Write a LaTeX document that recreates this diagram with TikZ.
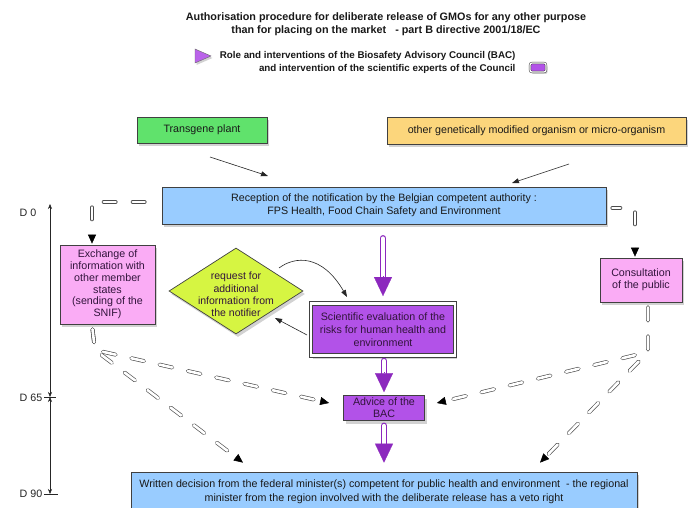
\documentclass[tikz,border=0pt]{standalone}
\usepackage{fontspec}
\setmainfont{Liberation Sans}
\usetikzlibrary{shapes.geometric,arrows.meta,calc,shadows}
\definecolor{bgreen}{RGB}{96,226,108}
\definecolor{borange}{RGB}{252,214,124}
\definecolor{bblue}{RGB}{153,204,255}
\definecolor{bpink}{RGB}{250,172,245}
\definecolor{byellow}{RGB}{214,245,66}
\definecolor{bpurple}{RGB}{178,82,232}
\definecolor{bdpurple}{RGB}{140,40,190}
\definecolor{btext}{RGB}{50,20,60}
\begin{document}
\begin{tikzpicture}[x=1pt,y=-1pt,
  box/.style={draw=black!75, line width=0.7pt, inner sep=0pt, align=center,
    font=\fontsize{10.7}{12}\selectfont, text=black!90,
    drop shadow={shadow xshift=2pt,shadow yshift=-3pt,opacity=0.35}},
  pinkbox/.style={box, fill=bpink, text=btext},
  thinarrow/.style={-{Triangle[length=7pt,width=5pt]}, line width=0.6pt, black!85},
  hollowdash/.style={draw=black!70, line width=0.65pt, double=white, double distance=2.6pt,
    dash pattern=on 13pt off 16pt, line cap=round},
  dashtip/.style={-{Triangle[length=9pt,width=8pt]}, line width=0.5pt, black},
  bacshaft/.style={draw=bdpurple, line width=1.3pt, double=white, double distance=4pt, line cap=round},
  bachead/.style={-{Triangle[length=19pt,width=18pt]}, line width=0.2pt, bdpurple},
  dlabel/.style={font=\fontsize{10.7}{12}\selectfont, text=black!85}
]
\useasboundingbox (0,0) rectangle (691,508);
\fill[white] (0,0) rectangle (691,508);

% title and legend
\node[font=\bfseries\fontsize{10.8}{13}\selectfont, align=center, text=black!90] (title) at (386,24.5)
  {Authorisation procedure for deliberate release of GMOs for any other purpose\\
   than for placing on the market \ \ - part B directive 2001/18/EC};
\draw[draw=black!60, line width=0.4pt, fill=bpurple!90!white,
  drop shadow={shadow xshift=1.5pt,shadow yshift=-2pt,opacity=0.35}]
  (195,49) -- (211,56) -- (195,63) -- cycle;
\node[font=\bfseries\fontsize{9.8}{12.5}\selectfont, align=right, anchor=east, text=black!90] (legtext) at (519,62.5)
  {Role and interventions of the Biosafety Advisory Council (BAC)\\
   and intervention of the scientific experts of the Council};
\node[draw=black!75, line width=0.5pt, double=white, double distance=1.2pt, fill=bpurple,
  rounded corners=2pt, minimum width=16pt, minimum height=9pt, inner sep=0pt,
  drop shadow={shadow xshift=1.5pt,shadow yshift=-2pt,opacity=0.35}] (legbox) at (538,67.5) {};

% source boxes
\node[box, fill=bgreen, minimum width=130pt, minimum height=26pt] (plant) at (202,130) {Transgene plant};
\node[box, fill=borange, minimum width=299pt, minimum height=27pt] (other) at (536.5,130.5)
  {other genetically modified organism or micro-organism};
\node[box, fill=bblue, minimum width=444pt, minimum height=37pt, font=\fontsize{10.7}{13}\selectfont] (rec) at (384,205.5)
  {Reception of the notification by the Belgian competent authority :\\
   FPS Health, Food Chain Safety and Environment};

\coordinate (pa) at (210,157); \coordinate (pb) at (268,176);
\coordinate (oa) at (569,164); \coordinate (ob) at (512,183);
\draw[thinarrow] (pa) -- (pb);
\draw[thinarrow] (oa) -- (ob);

% side boxes
\node[pinkbox, minimum width=95pt, minimum height=79pt, font=\fontsize{10.7}{11.8}\selectfont] (exch) at (107.5,284.5)
  {Exchange of\\information with\\other member\\states\\(sending of the\\SNIF)};
\node[pinkbox, minimum width=82pt, minimum height=44pt, font=\fontsize{10.7}{11.8}\selectfont] (cons) at (641,280)
  {Consultation\\of the public};

% diamond
\node[draw=black!75, line width=0.7pt, fill=byellow, diamond, inner sep=0pt,
  minimum width=134pt, minimum height=86pt,
  drop shadow={shadow xshift=2pt,shadow yshift=-3pt,opacity=0.35}] (req) at (236,291) {};
\node[align=center, font=\fontsize{10.5}{12.3}\selectfont, text=btext] (reqtext) at (236,294.5)
  {request for\\additional\\information from\\the notifier};

% scientific evaluation
\node[box, fill=bpurple, text=btext, line width=0.9pt, double=white, double distance=2.6pt,
  minimum width=144pt, minimum height=52pt, font=\fontsize{10.7}{13}\selectfont] (sci) at (383,329.5)
  {Scientific evaluation of the\\risks for human health and\\environment};
\node[box, fill=bpurple, text=btext, minimum width=81pt, minimum height=25pt] (adv) at (384,408)
  {Advice of the\\BAC};
\node[box, fill=bblue, minimum width=506pt, minimum height=40pt] (dec) at (384,492) {};
\node[align=center, font=\fontsize{10.7}{14}\selectfont, text=black!90] (dectext) at (384,492)
  {Written decision from the federal minister(s) competent for public health and environment \ - the regional\\
   minister from the region involved with the deliberate release has a veto right};

% curved and straight thin arrows around diamond
\coordinate (ca) at (279,268); \coordinate (cb) at (347,297);
\draw[thinarrow] (ca) .. controls (295,256) and (322,254) .. (cb);
\coordinate (sa) at (307,335); \coordinate (sb) at (275,318);
\draw[thinarrow] (sa) -- (sb);

% purple BAC arrows
\draw[bacshaft] ($(rec.south)+(-1,14)$) -- ($(sci.north)+(0,-26)$);
\draw[bachead] ($(sci.north)+(0,-27)$) -- ($(sci.north)+(0,-7)$);
\draw[bacshaft] ($(sci.south)+(1,5)$) -- ($(adv.north)+(0,-22)$);
\draw[bachead] ($(adv.north)+(0,-23)$) -- ($(adv.north)+(0,-3)$);
\draw[bacshaft] ($(adv.south)+(0,5)$) -- ($(dec.north)+(0,-27)$);
\draw[bachead] ($(dec.north)+(0,-28)$) -- ($(dec.north)+(0,-9)$);

% dashed connectors top
\coordinate (lc) at (92,202);
\coordinate (ltip) at ($(lc |- exch.north)+(0,-1)$);
\draw[hollowdash, dash pattern=on 12pt off 17pt on 12pt off 17pt on 12pt off 40pt]
  ($(rec.west)+(-17,-3.5)$) -- (lc) -- ($(ltip)+(0,-10)$);
\draw[dashtip] ($(ltip)+(0,-9)$) -- (ltip);
\coordinate (rc) at (635,208);
\coordinate (rtip) at ($(rc |- cons.north)+(0,-1)$);
\draw[hollowdash, dash pattern=on 8pt off 19pt on 12pt off 40pt]
  ($(rec.east)+(6,2.5)$) -- (rc) -- ($(rtip)+(0,-10)$);
\draw[dashtip] ($(rtip)+(0,-9)$) -- (rtip);

% dashed connectors bottom
\coordinate (lf) at (95,350);
\coordinate (tipA) at ($(adv.west)+(-14,-5)$);
\coordinate (tipB) at ($(dec.north)+(-141,-9)$);
\draw[hollowdash] ($(exch.south)+(-15,5)$) -- (lf) -- ($(tipA)!9pt!(lf)$);
\draw[hollowdash] ($(exch.south)+(-15,5)$) -- (lf) -- ($(tipB)!9pt!(lf)$);
\draw[dashtip] ($(tipA)!9pt!(lf)$) -- (tipA);
\draw[dashtip] ($(tipB)!9pt!(lf)$) -- (tipB);
\coordinate (rf) at (648,352);
\coordinate (tipC) at ($(adv.east)+(12,-5)$);
\coordinate (tipD) at ($(dec.north)+(156,-9)$);
\draw[hollowdash] ($(cons.south)+(7,5)$) -- (rf) -- ($(tipC)!9pt!(rf)$);
\draw[hollowdash] ($(cons.south)+(7,5)$) -- (rf) -- ($(tipD)!9pt!(rf)$);
\draw[dashtip] ($(tipC)!9pt!(rf)$) -- (tipC);
\draw[dashtip] ($(tipD)!9pt!(rf)$) -- (tipD);

% time axis
\coordinate (ax0) at (50,204);
\coordinate (ax65) at (50,397);
\coordinate (ax90) at (50,494);
\draw[{Stealth[length=5pt,width=4pt]}-{Stealth[length=5pt,width=4pt]}, line width=0.5pt, black!85] (ax0) -- (ax65);
\draw[{Stealth[length=5pt,width=4pt]}-{Stealth[length=5pt,width=4pt]}, line width=0.5pt, black!85] (ax65) -- (ax90);
\draw[line width=0.5pt, black!85] ($(ax65)+(-6,0)$) -- ($(ax65)+(6,0)$);
\draw[line width=0.5pt, black!85] ($(ax90)+(-6,0)$) -- ($(ax90)+(8,0)$);
\node[dlabel] (d0) at (28,213) {D 0};
\node[dlabel] (d65) at (31,398) {D 65};
\node[dlabel] (d90) at (31,494) {D 90};
\end{tikzpicture}
\end{document}
